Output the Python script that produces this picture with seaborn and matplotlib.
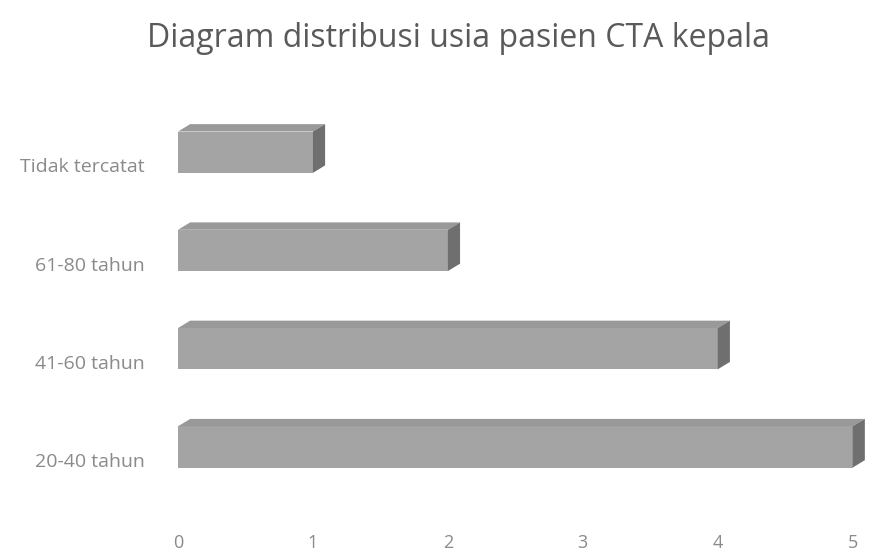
import numpy as np
import matplotlib
matplotlib.use("Agg")
import matplotlib.pyplot as plt
import matplotlib.transforms as mtransforms
from matplotlib.patches import Polygon
import seaborn as sns
import pandas as pd

# data
kategori = ["Tidak tercatat", "61-80 tahun", "41-60 tahun", "20-40 tahun"]
jumlah = [1, 2, 4, 5]
x_ticks = [0, 1, 2, 3, 4, 5]

sns.set_theme(style="white")
plt.rcParams['font.family'] = ['Open Sans', 'DejaVu Sans']

df = pd.DataFrame({"kategori": kategori, "jumlah": jumlah})

fig = plt.figure(figsize=(8.71, 5.53), dpi=100)
ax = fig.add_axes([0.2044, 0.103, 0.7746, 0.7107])

sns.barplot(data=df, x="jumlah", y="kategori", orient="h", ax=ax,
            color="#a4a4a4", width=0.42, saturation=1, linewidth=0)

# efek 3D: sisi atas dan sisi kanan
dx, dy = 0.09, 0.075
for p in ax.patches[:]:
    x0, y0 = p.get_x(), p.get_y()
    w, h = p.get_width(), p.get_height()
    # y axis terbalik -> y0 adalah tepi atas visual
    top = Polygon([(x0, y0), (x0 + dx, y0 - dy), (x0 + w + dx, y0 - dy), (x0 + w, y0)],
                  closed=True, facecolor="#999999", edgecolor="none", clip_on=False)
    side = Polygon([(x0 + w, y0), (x0 + w + dx, y0 - dy), (x0 + w + dx, y0 + h - dy), (x0 + w, y0 + h)],
                   closed=True, facecolor="#6f6f6f", edgecolor="none", clip_on=False)
    ax.add_patch(top)
    ax.add_patch(side)

ax.set_xlim(0, 5)
ax.set_ylim(3.5, -0.5)
ax.set_xticks(x_ticks)
ax.set_xticklabels([str(t) for t in x_ticks])
ax.set_xlabel("")
ax.set_ylabel("")
sns.despine(ax=ax, left=True, bottom=True)
ax.tick_params(axis="x", length=0, pad=27, labelsize=13, labelcolor="#8a8a8a")
ax.tick_params(axis="y", length=0, pad=24, labelsize=14, labelcolor="#8a8a8a")
ax.grid(False)

offset = mtransforms.ScaledTranslation(0, -9.5 / 72, fig.dpi_scale_trans)
for lbl in ax.get_yticklabels():
    lbl.set_transform(lbl.get_transform() + offset)

fig.suptitle("Diagram distribusi usia pasien CTA kepala", x=0.526, y=0.96,
             fontsize=23, color="#5a5a5a")

fig.savefig("out.png", dpi=100)
